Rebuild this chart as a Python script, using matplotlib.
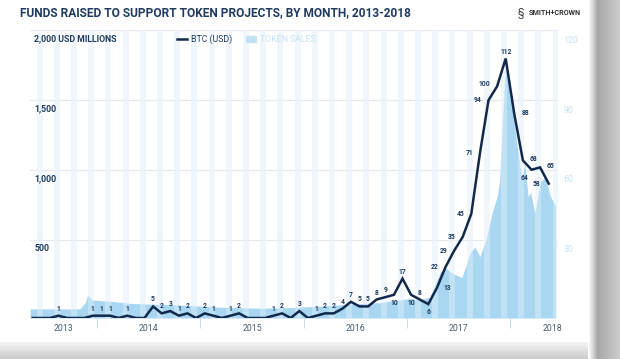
import numpy as np
import matplotlib as mpl
mpl.use("Agg")
import matplotlib.pyplot as plt
from matplotlib.lines import Line2D
from matplotlib.patches import Patch

# monthly points, May 2013 .. May 2018 (index 0 = May 2013)
months=np.arange(61)
sales=[0,0,0,1,0,0,0,1,1,1,0,1,0,0,5,2,3,1,2,0,2,1,0,1,2,0,0,0,1,2,0,3,0,1,2,2,4,7,5,5,8,9,10,17,10,8,6,13,22,29,35,45,71,94,100,112,88,68,64,65,58]

# light blue area (month index, USD millions)
area_x=[-0.3,5.5,6.1,6.4,6.9,7.8,9.0,11.3,13.6,16.5,19.5,22.9,26.4,29.9,33.4,36.9,40.4,42.7,43.9,45.0,46.2,47.4,48.0,48.8,49.9,50.9,51.4,52.0,52.8,53.4,54.0,54.3,54.7,55.0,55.5,55.9,56.4,56.9,57.2,57.6,57.9,58.4,59.0,59.6,60.2,60.8]
area_y=[65,65,110,165,130,125,120,105,100,95,85,75,70,75,85,100,110,130,140,130,150,330,360,320,290,470,510,440,580,750,870,990,1510,1850,1690,1440,1200,990,1110,870,900,750,970,1010,870,800]

left_ticks=[500,1000,1500,2000]
left_labels=["500","1,000","1,500","2,000 USD MILLIONS"]
right_ticks=[30,60,90,120]
years=["2013","2014","2015","2016","2017","2018"]
year_pos=[3.6,13.5,25.5,37.5,49.5,60.4]
year_bounds=[7.5,19.5,31.5,43.5,55.5]

navy='#13294b'
txt='#1e3a5f'
lightblue='#a9d7f1'
fnt=['Roboto','DejaVu Sans']
plt.rcParams['font.family']=fnt

fig=plt.figure(figsize=(6.2,3.59),dpi=100)
fig.patch.set_facecolor('white')

# card shadow
sh=fig.add_axes([0,0,1,17/359])
sh.imshow(np.linspace(0.95,0.8,20).reshape(-1,1),cmap='gray',vmin=0,vmax=1,aspect='auto',extent=[0,1,0,1])
sh.axis('off')
sr=fig.add_axes([588/620,0,32/620,1])
g=np.concatenate([np.linspace(1.0,0.66,10),np.linspace(0.66,0.8,22)])
sr.imshow(g.reshape(1,-1),cmap='gray',vmin=0,vmax=1,aspect='auto',extent=[0,1,0,1])
sr.axis('off')
card=fig.add_axes([0,17/359,588/620,1-17/359])
card.axis('off')
card.add_patch(plt.Rectangle((0,0),1,1,color='white',transform=card.transAxes))

ax=fig.add_axes([30/620,(359-318)/359,528/620,288/359])
ax.set_xlim(-0.31,61.08)
ax.set_ylim(0,2064)
ax.patch.set_alpha(0)

# month stripes
for k in range(0,62,2):
  ax.axvspan(k+0.45,k+1.15,color='#ebf5fc',zorder=0,lw=0)
for gy in [562,1062,1562,2062]:
  ax.axhline(gy,color='#e4e8ee',lw=0.8,zorder=0.5)
ax.fill_between(area_x,area_y,0,color=lightblue,lw=0,zorder=1)
for k in range(0,62,2):
  ax.axvspan(k+0.45,k+1.15,color='white',alpha=0.28,zorder=1.5,lw=0)

for s in ax.spines.values():
  s.set_visible(False)
ax.set_yticks(left_ticks)
ax.set_yticklabels(left_labels,ha='left',fontsize=6.3,fontweight='bold',color=txt)
ax.tick_params(axis='y',length=0,pad=-3)
for t in ax.get_yticklabels():
  t.set_verticalalignment('center')
ax.set_xticks(year_pos)
ax.set_xticklabels(years,fontsize=6.3,color='#4b5b70')
ax.set_xticks(year_bounds,minor=True)
ax.tick_params(axis='x',which='major',length=0,pad=4)
ax.tick_params(axis='x',which='minor',length=7,color='#c9dcea',width=0.8)

ax2=ax.twinx()
ax2.set_ylim(0,124.3)
for s in ax2.spines.values():
  s.set_visible(False)
ax2.set_yticks(right_ticks)
ax2.set_yticklabels([str(v) for v in right_ticks],fontsize=6.3,color='#c6e3f3')
ax2.tick_params(axis='y',length=0,pad=4)
ax2.plot(months,sales,color=navy,lw=1.8,zorder=5,solid_joinstyle='miter')

off={42:(0,-6),44:(0,-6),46:(0,-6),47:(5,0),48:(-5,0),49:(-5,0),50:(-5,0),51:(-5,0),52:(-5,0),53:(-5,0),54:(-5,2),56:(5,1),57:(5,1),58:(-2,-6),59:(5,1),60:(-6,0)}
for i,v in enumerate(sales):
  if v<=0:
    continue
  dx,dy=off.get(i,(0,5))
  ha='center' if dx==0 else ('left' if dx>0 else 'right')
  ax2.annotate(str(v),(months[i],v),xytext=(dx,dy),textcoords='offset points',ha=ha,va='center',fontsize=4.9,fontweight='bold',color=txt,zorder=6)

hs=[Line2D([0],[0],color=navy,lw=1.8),Patch(color='#c3e3f5')]
lg=ax.legend(hs,['BTC (USD)','TOKEN SALES'],loc='center',bbox_to_anchor=(0.41,0.968),ncol=2,frameon=False,fontsize=6.3,handlelength=1.1,handleheight=0.7,columnspacing=1.6,handletextpad=0.5)
lg.get_texts()[0].set_color(txt)
lg.get_texts()[1].set_color('#c6e3f3')

ttl=fig.text(20/620,1-13/359,'FUNDS RAISED TO SUPPORT TOKEN PROJECTS, BY MONTH, 2013-2018',fontsize=10,fontweight='bold',color='#1f3a5f',va='center',ha='left')
r=fig.canvas.get_renderer()
w=ttl.get_window_extent(r).width
ttl.set_fontsize(10*392/w)
fig.text(521/620,1-13/359,'§',fontsize=7.5,color='#333333',va='center',ha='center')
fig.text(529/620,1-13/359,'SMITH+CROWN',fontsize=5.2,fontweight='bold',color='#333333',va='center',ha='left')

plt.savefig('out.png',dpi=100)
